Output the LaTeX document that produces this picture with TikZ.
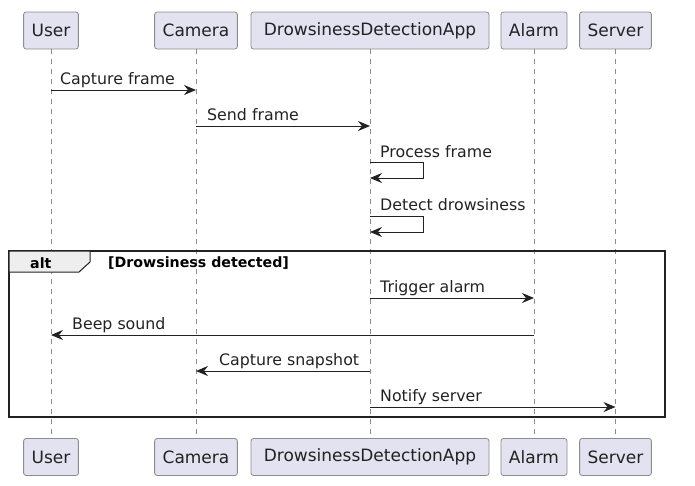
\documentclass[tikz,border=0pt]{standalone}
\usepackage{fontspec}
\setmainfont{DejaVu Sans}
\usepackage{tikz}
\usetikzlibrary{positioning,calc}
\usetikzlibrary{arrows.meta}
\definecolor{PartFill}{HTML}{E2E2F0}
\definecolor{PartLine}{HTML}{8C8C8C}
\definecolor{InkDark}{HTML}{222222}
\definecolor{TabFill}{HTML}{EEEEEE}
\tikzset{
  part/.style={draw=PartLine,fill=PartFill,rounded corners=2.5pt,line width=0.8pt,
    minimum height=37pt,inner xsep=8pt,font=\fontsize{17}{20}\selectfont,text=InkDark},
  life/.style={draw=PartLine,line width=0.7pt,dash pattern=on 5pt off 5pt},
  msg/.style={draw=InkDark,line width=1pt,-{Stealth[length=12pt,width=10pt,inset=4pt]}},
  msglab/.style={inner sep=0pt,anchor=base west,font=\fontsize{15.8}{18}\selectfont,text=InkDark},
}
\tikzset{altbox/.style={draw=InkDark,line width=2pt}, alttab/.style={draw=InkDark,fill=TabFill,line width=1pt},
  altlab/.style={inner sep=0pt,anchor=base west,font=\fontsize{14.2}{16}\selectfont\bfseries,text=black}}

\begin{document}
\begin{tikzpicture}[x=1pt,y=-1pt]
\useasboundingbox (0,0) rectangle (695,485);
\node[part] (userT) at (51,30.5) {User};
\node[part] (camT) at (196,30.5) {Camera};
\node[part,minimum width=238pt] (appT) at (370,30.5) {DrowsinessDetectionApp};
\node[part] (alarmT) at (534,30.5) {Alarm};
\node[part] (srvT) at (615.5,30.5) {Server};
\node[part] (userB) at (51,457) {User};
\node[part] (camB) at (196,457) {Camera};
\node[part,minimum width=238pt] (appB) at (370,457) {DrowsinessDetectionApp};
\node[part] (alarmB) at (534,457) {Alarm};
\node[part] (srvB) at (615.5,457) {Server};
\draw[life] (userT) -- (userB);
\draw[life] (camT) -- (camB);
\draw[life] (appT) -- (appB);
\draw[life] (alarmT) -- (alarmB);
\draw[life] (srvT) -- (srvB);
\coordinate (m1) at (0,90);
\coordinate (m2) at (0,126);
\coordinate (m3) at (0,162);
\coordinate (loop3) at (423,178);
\coordinate (m4) at (0,216);
\coordinate (loop4) at (423,232);
\coordinate (m5) at (0,298);
\coordinate (m6) at (0,335);
\coordinate (m7) at (0,371);
\coordinate (m8) at (0,407);
\draw[altbox] (9,251) rectangle (665,417);
\draw[alttab] (9,251) -- (90,251) -- (90,262) -- (79,272) -- (9,272) -- cycle;
\node[altlab] (altname) at (30,268) {alt};
\node[altlab] (altcond) at (108,267) {[Drowsiness detected]};
\draw[msg] (userT |- m1) -- (camT |- m1);
\draw[msg] (camT |- m2) -- (appT |- m2);
\draw[msg] (appT |- m3) -| (loop3) -- (appT |- loop3);
\draw[msg] (appT |- m4) -| (loop4) -- (appT |- loop4);
\draw[msg] (appT |- m5) -- (alarmT |- m5);
\draw[msg] (alarmT |- m6) -- (userT |- m6);
\draw[msg] (appT |- m7) -- (camT |- m7);
\draw[msg] (appT |- m8) -- (srvT |- m8);
\node[msglab] (l1) at ($(userT |- m1)+(9,-6)$) {Capture frame};
\node[msglab] (l2) at ($(camT |- m2)+(11,-6)$) {Send frame};
\node[msglab] (l3) at ($(appT |- m3)+(10,-5)$) {Process frame};
\node[msglab] (l4) at ($(appT |- m4)+(10,-6)$) {Detect drowsiness};
\node[msglab] (l5) at ($(appT |- m5)+(10,-6)$) {Trigger alarm};
\node[msglab] (l6) at ($(userT |- m6)+(21,-6)$) {Beep sound};
\node[msglab] (l7) at ($(camT |- m7)+(23,-6)$) {Capture snapshot};
\node[msglab] (l8) at ($(appT |- m8)+(10,-6)$) {Notify server};
\end{tikzpicture}
\end{document}
